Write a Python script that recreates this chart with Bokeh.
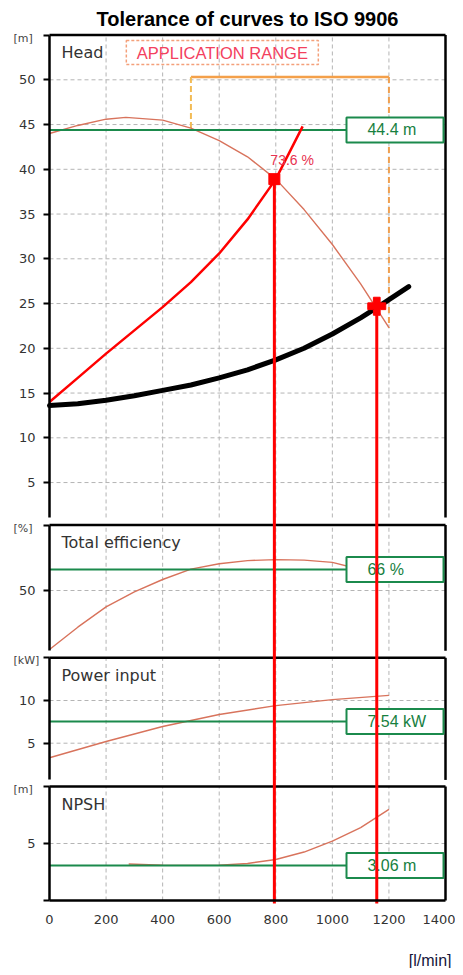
import numpy as np
from bokeh.plotting import figure
from bokeh.models import Range1d, LinearAxis, FixedTicker, Label
from bokeh.embed import file_html
from bokeh.resources import INLINE
from bokeh.core.properties import value

# ---------------- data ----------------
x_ticks = [0, 200, 400, 600, 800, 1000, 1200, 1400]

head_flow = [0, 100, 200, 270, 400, 500, 600, 700, 800, 900, 1000, 1100, 1200]
head_pump = [44.0, 44.9, 45.6, 45.8, 45.5, 44.6, 43.2, 41.4, 38.9, 35.5, 31.6, 27.2, 22.3]

req_flow = [0, 100, 200, 300, 400, 500, 600, 700, 800, 895]
req_head = [14.0, 16.7, 19.4, 22.0, 24.6, 27.4, 30.6, 34.4, 38.9, 44.8]

sys_flow = [0, 100, 200, 300, 400, 500, 600, 700, 800, 900, 1000, 1100, 1160, 1270]
sys_head = [13.6, 13.8, 14.2, 14.7, 15.3, 15.9, 16.7, 17.6, 18.7, 20.0, 21.6, 23.4, 24.6, 26.9]

eff_flow = [0, 100, 200, 300, 400, 500, 600, 700, 800, 900, 1000, 1100]
eff_vals = [5.0, 22.0, 37.5, 49.0, 58.4, 66.3, 70.4, 72.8, 73.6, 73.2, 71.5, 66.0]

pow_flow = [0, 200, 400, 600, 800, 1000, 1200]
pow_vals = [3.3, 5.2, 6.95, 8.36, 9.4, 10.1, 10.6]

npsh_flow = [280, 400, 500, 600, 700, 800, 900, 1000, 1100, 1200]
npsh_vals = [3.2, 3.1, 3.08, 3.1, 3.25, 3.6, 4.25, 5.2, 6.4, 8.0]

app_range = [500, 1200]
app_top = 50.3

duty_flow = [795, 1157]
duty_head = [38.9, 24.7]
duty_eff_text = "73.6 %"

rated_vals = [44.4, 66, 7.54, 3.06]
rated_texts = ["44.4 m", "66 %", "7.54 kW", "3.06 m"]

panel_names = ["head", "eff", "pow", "npsh"]
panel_titles = ["Head", "Total efficiency", "Power input", "NPSH"]
panel_units = ["[m]", "[%]", "[kW]", "[m]"]
panel_ticks = [[5, 10, 15, 20, 25, 30, 35, 40, 45, 50], [50], [5, 10], [0, 5]]
panel_top = [55, 100, 15, 10]
panel_bottom = [1.1, 4, 0.7, 0]

# ---------------- layout (pixel positions inside the figure) ----------------
W, H = 455, 968
X0_PX, X1400_PX = 49, 445
RED_BOTTOM_PX = 903
ppx = (X1400_PX - X0_PX) / 1400.0
# (anchor value, anchor y px from top, px per unit)
panel_scale = {"head": (50, 79.3, 8.95), "eff": (50, 590, 1.31),
               "pow": (10, 700, 8.54), "npsh": (0, 900, 11.4)}

x_range = Range1d(-X0_PX / ppx, 1400 + (W - X1400_PX) / ppx)
y_range = Range1d(0, H)   # screen-like vertical units, 0 at the bottom

p = figure(width=W, height=H, x_range=x_range, y_range=y_range,
           output_backend="svg", toolbar_location=None,
           x_axis_location=None, y_axis_location=None,
           min_border_left=0, min_border_right=0,
           min_border_top=0, min_border_bottom=0,
           outline_line_color=None)
p.xgrid.visible = False
p.ygrid.visible = False
p.title.visible = False

extra = {}
for name in panel_names:
    a, pg, s = panel_scale[name]
    start = a - (H - pg) / s
    extra[name] = Range1d(start, start + H / s)
p.extra_y_ranges = extra

GRID = "#b4b4b4"
TXT = "#333333"
GREEN = "#1b8a4c"
PUMP = "#d8735c"
BOX_L, BOX_R, BOX_TXT = 1050, 1393, 1124

for i, name in enumerate(panel_names):
    top, bot = panel_top[i], panel_bottom[i]
    vx = x_ticks[1:-1]
    p.segment(x0=vx, y0=[bot] * len(vx), x1=vx, y1=[top] * len(vx),
              line_color=GRID, line_dash="4 3", line_width=1, y_range_name=name)
    hy = [t for t in panel_ticks[i] if t > bot]
    p.segment(x0=[0] * len(hy), y0=hy, x1=[1400] * len(hy), y1=hy,
              line_color=GRID, line_dash="4 3", line_width=1, y_range_name=name)
    p.segment(x0=[0], y0=[top], x1=[1400], y1=[top], line_color="black",
              line_width=2.5, y_range_name=name)
    p.segment(x0=[1400], y0=[bot], x1=[1400], y1=[top], line_color="black",
              line_width=2.5, y_range_name=name)
    ticks = panel_ticks[i] + [top]
    overrides = {top: ""}
    if 0 in panel_ticks[i]:
        overrides[0] = ""
    ax = LinearAxis(y_range_name=name, fixed_location=0, bounds=(bot, top),
                    ticker=FixedTicker(ticks=ticks), major_label_overrides=overrides,
                    axis_line_width=2.5, axis_line_color="black",
                    major_tick_out=6, major_tick_in=0, major_tick_line_width=2,
                    minor_tick_out=0, minor_tick_in=0,
                    major_label_standoff=8,
                    major_label_text_font="DejaVu Sans",
                    major_label_text_font_size="13px",
                    major_label_text_color=TXT)
    p.add_layout(ax, "left")
    p.add_layout(Label(x=0, y=top, x_offset=12, y_offset=-17.5, y_range_name=name,
                       text=panel_titles[i], text_baseline="middle",
                       text_font="DejaVu Sans", text_font_size="16px",
                       text_color=TXT))
    p.add_layout(Label(x=0, y=top, x_offset=-36, y_offset=-3, y_range_name=name,
                       text=panel_units[i], text_baseline="middle",
                       text_font="DejaVu Sans", text_font_size="11px",
                       text_color="#444444"))

xax = LinearAxis(y_range_name="npsh", fixed_location=0, bounds=(0, 1400),
                 ticker=FixedTicker(ticks=x_ticks),
                 axis_line_width=2.5, axis_line_color="black",
                 major_tick_out=0, major_tick_in=0, minor_tick_out=0, minor_tick_in=0,
                 major_label_standoff=14,
                 major_label_text_font="DejaVu Sans",
                 major_label_text_font_size="13px",
                 major_label_text_color=TXT)
p.add_layout(xax, "below")

# application range
app_lo = float(np.interp(app_range[0], head_flow, head_pump))
app_hi = float(np.interp(app_range[1], head_flow, head_pump))
p.line(x=app_range, y=[app_top, app_top], line_color="#f4a04a", line_width=2.5,
       y_range_name="head")
p.line(x=[app_range[0], app_range[0]], y=[app_top, app_lo], line_color="#f2bb55",
       line_width=2, line_dash="6 3", y_range_name="head")
p.line(x=[app_range[1], app_range[1]], y=[app_top, app_hi], line_color="#f0a050",
       line_width=2, line_dash="6 4", y_range_name="head")
p.rect(x=[611], y=[53.05], width=192, height=24, width_units="screen",
       height_units="screen", fill_color=None, line_color="#f4a07a",
       line_dash="3 2", line_width=1.5, y_range_name="head")
p.text(x=[611], y=[53.05], text=["APPLICATION RANGE"], text_align="center",
       text_baseline="middle", text_font=value("Liberation Sans"),
       text_font_size=value("16.5px"), text_color="#f3405e", y_range_name="head")

# pump curves
p.line(head_flow, head_pump, line_color=PUMP, line_width=1.4, y_range_name="head")
p.line(eff_flow, eff_vals, line_color=PUMP, line_width=1.4, y_range_name="eff")
p.line(pow_flow, pow_vals, line_color=PUMP, line_width=1.4, y_range_name="pow")
p.line(npsh_flow, npsh_vals, line_color=PUMP, line_width=1.4, y_range_name="npsh")

# rated lines & boxes
for i, name in enumerate(panel_names):
    v = rated_vals[i]
    p.line(x=[0, BOX_L], y=[v, v], line_color=GREEN, line_width=2, y_range_name=name)
    p.rect(x=[(BOX_L + BOX_R) / 2], y=[v], width=BOX_R - BOX_L, height=25,
           height_units="screen", fill_color="white", line_color=GREEN,
           line_width=2, y_range_name=name)
    p.text(x=[BOX_TXT], y=[v], text=[rated_texts[i]], text_baseline="middle",
           text_font=value("Liberation Sans"), text_font_size=value("16px"),
           text_color="#17803f", y_range_name=name)

# system curve and required curve
p.line(sys_flow, sys_head, line_color="black", line_width=5, line_cap="round",
       line_join="round", y_range_name="head")
p.line(req_flow, req_head, line_color="#ff0000", line_width=2.5,
       line_join="round", y_range_name="head")

# duty verticals from the duty points down below the NPSH panel
a, pg, s = panel_scale["head"]
floor_head = a - (RED_BOTTOM_PX - pg) / s
p.segment(x0=duty_flow, y0=duty_head, x1=duty_flow, y1=[floor_head] * len(duty_flow),
          line_color="#ff0000", line_width=3, y_range_name="head")
p.scatter(x=duty_flow[:1], y=duty_head[:1], marker="square", size=11,
          fill_color="#ff0000", line_color="#ff0000", y_range_name="head")
p.scatter(x=duty_flow[1:], y=duty_head[1:], marker="plus", size=18,
          fill_color="#ff0000", line_color="#ff0000", y_range_name="head")
p.add_layout(Label(x=duty_flow[0], y=duty_head[0], x_offset=-4, y_offset=19.5,
                   y_range_name="head", text=duty_eff_text, text_baseline="middle",
                   text_font="Liberation Sans", text_font_size="14px",
                   text_color="#e8324f"))

# title and flow unit
p.add_layout(Label(x=700, y=H - 18, text="Tolerance of curves to ISO 9906",
                   text_align="center", text_baseline="middle",
                   text_font="Liberation Sans", text_font_style="bold",
                   text_font_size="20px", text_color="black"))
p.add_layout(Label(x=1400, y=H - 960, x_offset=6, text="[l/min]",
                   text_align="right", text_baseline="middle",
                   text_font="Liberation Sans", text_font_size="16px",
                   text_color="#15153a"))

open("out.html", "w").write(file_html(p, INLINE))
